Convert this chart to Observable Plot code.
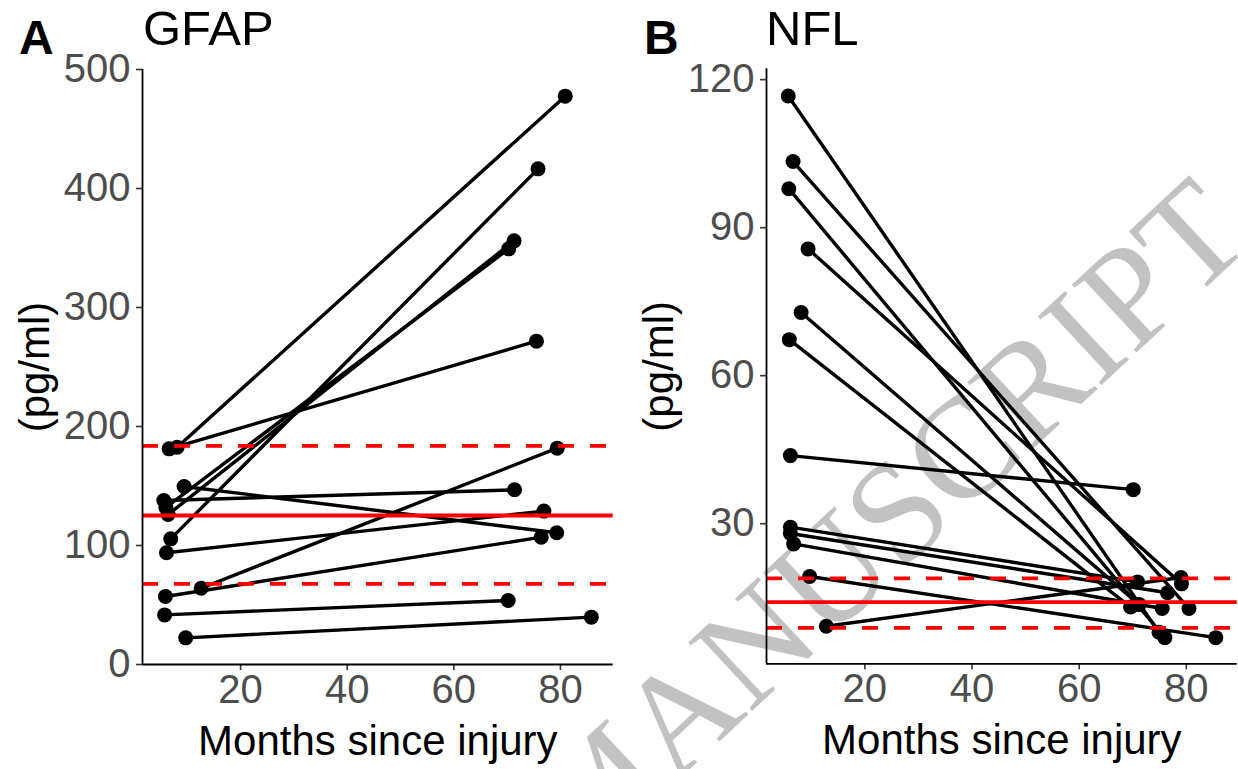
<!DOCTYPE html>
<html>
<head>
<meta charset="utf-8">
<script src="https://cdn.jsdelivr.net/npm/d3@7"></script>
<script src="https://cdn.jsdelivr.net/npm/@observablehq/plot@0.6"></script>
<style>
  html, body { margin: 0; padding: 0; background: #fff; }
  body { width: 1238px; height: 769px; overflow: hidden; position: relative; font-family: "Liberation Sans", Arial, sans-serif; }
  .panel { position: absolute; top: 0; z-index: 2; }
  .tag { position: absolute; font-weight: bold; font-size: 48px; line-height: 1; z-index: 3; color: #000; }
  .title { position: absolute; font-size: 49px; line-height: 1; z-index: 3; color: #000; }
  #wm { position: absolute; left: 602px; top: 786px; transform: translate(-50%, -50%) rotate(-43deg);
        font-family: "Liberation Serif", "DejaVu Serif", serif; font-size: 143px; line-height: 1;
        color: #c2c2c2; white-space: nowrap; z-index: 1; }
</style>
</head>
<body>
<div id="wm">ACCEPTED MANUSCRIPT</div>
<div id="pa" class="panel" style="left:0px"></div>
<div id="pb" class="panel" style="left:620px"></div>
<div class="tag" style="left:19px; top:14px">A</div>
<div class="title" style="left:143px; top:4px">GFAP</div>
<div class="tag" style="left:644px; top:14px">B</div>
<div class="title" style="left:766px; top:4px">NFL</div>
<script>
// ---- Panel A: GFAP (pg/ml) ----
const gfapMonths1 = [8.1, 6.6, 6.9, 6.4, 6.0, 5.6, 9.4, 6.1, 5.9, 12.6, 5.75, 9.7];
const gfapValue1  = [182.6, 181.2, 105.6, 126.0, 132.0, 137.8, 149.6, 93.9, 57.1, 64.1, 41.7, 22.4];
const gfapMonths2 = [80.9, 75.5, 75.8, 71.3, 70.3, 71.4, 79.3, 76.9, 76.4, 79.4, 70.2, 85.8];
const gfapValue2  = [477.6, 271.7, 416.5, 356.0, 349.3, 146.8, 110.7, 128.9, 107.0, 181.8, 53.8, 39.8];
const gfapRefMean = [125.2];
const gfapRefBand = [67.8, 183.8];
const gfapYTicks  = [0, 100, 200, 300, 400, 500];

// ---- Panel B: NFL (pg/ml) ----
const nflMonths1 = [5.7, 6.6, 5.8, 9.4, 8.1, 5.9, 6.1, 6.1, 6.1, 6.7, 9.7, 12.8];
const nflValue1  = [116.7, 103.4, 97.9, 85.7, 72.8, 67.3, 43.8, 29.3, 28.0, 25.9, 19.3, 9.2];
const nflMonths2 = [74.9, 80.5, 76.0, 79.1, 71.2, 69.6, 70.1, 70.9, 76.5, 75.5, 85.5, 79.0];
const nflValue2  = [8.0, 12.8, 6.9, 17.8, 13.6, 13.1, 36.9, 18.2, 16.0, 12.8, 6.9, 19.1];
const nflRefMean = [14.1];
const nflRefBand = [8.9, 18.9];
const nflYTicks  = [30, 60, 90, 120];

const xTicks = [20, 40, 60, 80];
const xLabel = "Months since injury";
const yLabel = "(pg/ml)";

function panel({t1, v1, t2, v2, mean, band, xDomain, yDomain, yTicks, width, marginLeft, marginRight, marginTop, marginBottom}) {
  const idx = d3.range(t1.length);
  return Plot.plot({
    width, height: 769,
    marginLeft, marginRight, marginTop, marginBottom,
    x: {domain: xDomain},
    y: {domain: yDomain},
    style: {background: "transparent", fontFamily: "Liberation Sans, Arial, sans-serif", overflow: "visible"},
    marks: [
      Plot.link(idx, {x1: i => t1[i], y1: i => v1[i], x2: i => t2[i], y2: i => v2[i], stroke: "black", strokeWidth: 3.4}),
      Plot.dot(idx, {x: i => t1[i], y: i => v1[i], r: 7.5, fill: "black", stroke: "none"}),
      Plot.dot(idx, {x: i => t2[i], y: i => v2[i], r: 7.5, fill: "black", stroke: "none"}),
      Plot.ruleY(mean, {stroke: "#ff0000", strokeWidth: 3.8}),
      Plot.ruleY(band, {stroke: "#ff0000", strokeWidth: 3.8, strokeDasharray: "16,16"}),
      Plot.axisX({ticks: xTicks, tickSize: 6, tickPadding: 4, fontSize: 40, label: null, stroke: "#333333", fill: "#4d4d4d", strokeWidth: 1.6}),
      Plot.axisY({ticks: yTicks, tickSize: 6, tickPadding: 6, fontSize: 40, label: null, stroke: "#333333", fill: "#4d4d4d", strokeWidth: 1.6}),
      Plot.ruleX([xDomain[0]], {stroke: "black", strokeWidth: 1.8}),
      Plot.ruleY([yDomain[0]], {stroke: "black", strokeWidth: 1.8}),
      Plot.text([yLabel], {frameAnchor: "left", textAnchor: "middle", lineAnchor: "middle", dx: -107, rotate: -90, fontSize: 42, fill: "black"}),
      Plot.text([xLabel], {frameAnchor: "bottom", textAnchor: "middle", lineAnchor: "middle", dy: 77, fontSize: 42, fill: "black"})
    ]
  });
}

document.getElementById("pa").append(panel({
  t1: gfapMonths1, v1: gfapValue1, t2: gfapMonths2, v2: gfapValue2,
  mean: gfapRefMean, band: gfapRefBand,
  xDomain: [1.6, 89.9], yDomain: [0, 500], yTicks: gfapYTicks,
  width: 620, marginLeft: 142, marginRight: 7.3, marginTop: 69, marginBottom: 105
}));

document.getElementById("pb").append(panel({
  t1: nflMonths1, v1: nflValue1, t2: nflMonths2, v2: nflValue2,
  mean: nflRefMean, band: nflRefBand,
  xDomain: [1.64, 89.5], yDomain: [1.6, 122.2], yTicks: nflYTicks,
  width: 618, marginLeft: 146, marginRight: 1.3, marginTop: 68.3, marginBottom: 105.7
}));
</script>
</body>
</html>
